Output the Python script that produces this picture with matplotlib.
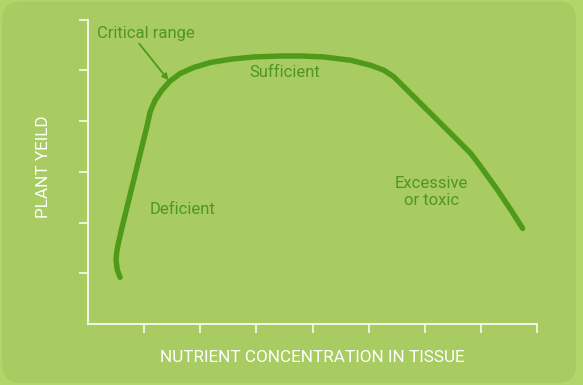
import matplotlib.pyplot as plt
from matplotlib.patches import FancyBboxPatch

# curve (x: nutrient concentration, y: plant yield)
conc = [0.571, 0.523, 0.500, 0.513, 0.541, 0.602, 0.785, 1.048, 1.107, 1.196, 1.316,
        1.464, 1.643, 1.880, 2.179, 2.536, 2.952, 3.429, 3.800, 4.202, 4.679, 5.036,
        5.273, 5.452, 5.691, 5.988, 6.286, 6.584, 6.821, 7.000, 7.298, 7.536, 7.745]
yield_ = [0.919, 1.063, 1.260, 1.423, 1.589, 1.884, 2.703, 3.884, 4.179, 4.409, 4.606,
          4.789, 4.935, 5.053, 5.152, 5.217, 5.262, 5.281, 5.281, 5.262, 5.197, 5.098,
          5.000, 4.868, 4.606, 4.278, 3.950, 3.622, 3.360, 3.096, 2.638, 2.244, 1.884]

x_ticks = [1, 2, 3, 4, 5, 6, 7, 8]
y_ticks = [1, 2, 3, 4, 5, 6]

bg = "#a8cb62"
dark = "#4f9a18"
text_green = "#4f9722"

plt.rcParams['font.family'] = ['Roboto', 'DejaVu Sans']

fig = plt.figure(figsize=(5.83, 3.85), dpi=100, facecolor="#b3d66a")
box = FancyBboxPatch((0.004, 0.006), 0.984, 0.99, boxstyle="round,pad=0,rounding_size=0.03",
                     transform=fig.transFigure, facecolor=bg, edgecolor="none", zorder=-1,
                     mutation_aspect=583 / 385)
fig.patches.append(box)

ax = fig.add_axes([88 / 583, 1 - 324 / 385, (537 - 88) / 583, (324 - 19.5) / 385])
ax.patch.set_alpha(0)
ax.set_xlim(0, 8)
ax.set_ylim(0, 6)

ax.plot(conc, yield_, color=dark, lw=3.9, solid_capstyle='round', solid_joinstyle='round')

for s in ['top', 'right']:
    ax.spines[s].set_visible(False)
for s in ['left', 'bottom']:
    ax.spines[s].set_color('white')
    ax.spines[s].set_linewidth(1.2)

ax.set_xticks(x_ticks)
ax.set_yticks(y_ticks)
ax.tick_params(axis='both', direction='out', length=6.5, width=1.1, color='white',
               labelbottom=False, labelleft=False)

ax.set_xlabel("NUTRIENT CONCENTRATION IN TISSUE", color='white', fontsize=12.3, va='center')
ax.xaxis.set_label_coords(0.5, -33 / 304.5)
ax.set_ylabel("PLANT YEILD", color='white', fontsize=12.3, va='center')
ax.yaxis.set_label_coords(-44 / 449, 157.5 / 304.5)

ax.text(3.5, 4.96, "Sufficient", color=text_green, fontsize=12, ha='center', va='center')
ax.text(1.69, 2.26, "Deficient", color=text_green, fontsize=12, ha='center', va='center')
ax.text(6.12, 2.60, "Excessive\nor toxic", color=text_green, fontsize=12, ha='center',
        va='center', linespacing=1.15)
ax.text(0.155, 5.73, "Critical range", color=text_green, fontsize=12, ha='left', va='center')
ax.annotate("", xy=(1.434, 4.803), xytext=(0.911, 5.526),
            arrowprops=dict(arrowstyle='-|>', color=dark, lw=1.3, mutation_scale=9,
                            shrinkA=0, shrinkB=0))

fig.savefig("out.png", dpi=100, facecolor=fig.get_facecolor())
